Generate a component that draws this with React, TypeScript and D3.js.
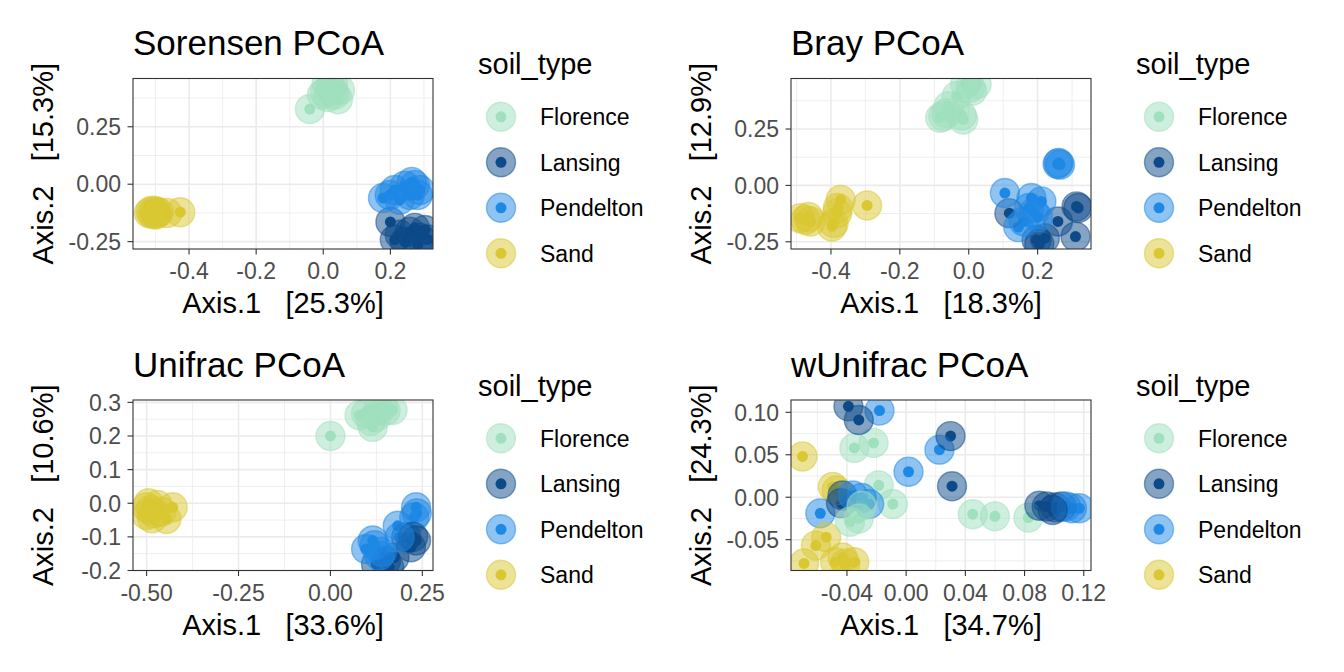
import * as React from 'react';
import * as d3 from 'd3';

type Pt = [number, number];

const soilTypes = ['Florence', 'Lansing', 'Pendelton', 'Sand'];
const soilColors = ['#9fe0be', '#0c4a8a', '#1e88e5', '#d9c832'];

// Sorensen PCoA
const sorFlorence: Pt[] = [[-0.04, 0.327], [0.005, 0.40], [0.02, 0.42], [0.035, 0.39], [0.014, 0.38], [0.05, 0.41], [0.029, 0.435], [-0.004, 0.39], [0.044, 0.37], [0.01, 0.44], [0.03, 0.405]];
const sorLansing: Pt[] = [[0.2, -0.164], [0.228, -0.22], [0.258, -0.207], [0.288, -0.233], [0.311, -0.24], [0.273, -0.19], [0.243, -0.25], [0.303, -0.199], [0.213, -0.242], [0.282, -0.263]];
const sorPendelton: Pt[] = [[0.178, -0.06], [0.213, -0.025], [0.243, -0.007], [0.273, -0.003], [0.288, -0.025], [0.258, -0.047], [0.228, -0.068], [0.198, -0.047], [0.264, 0.01], [0.282, -0.047]];
const sorSand: Pt[] = [[-0.426, -0.122], [-0.465, -0.125], [-0.50, -0.12], [-0.51, -0.13], [-0.505, -0.115], [-0.52, -0.125], [-0.495, -0.128], [-0.515, -0.118], [-0.49, -0.122], [-0.50, -0.132]];

// Bray PCoA
const brayFlorence: Pt[] = [[-0.074, 0.307], [-0.083, 0.30], [-0.065, 0.32], [-0.016, 0.292], [-0.02, 0.31], [0.004, 0.433], [-0.035, 0.396], [0.023, 0.448], [-0.059, 0.351], [-0.01, 0.45], [0.01, 0.42]];
const brayLansing: Pt[] = [[0.118, -0.123], [0.259, -0.16], [0.313, -0.093], [0.318, -0.1], [0.31, -0.227], [0.197, -0.242], [0.221, -0.234], [0.205, -0.26]];
const brayPendelton: Pt[] = [[0.261, 0.10], [0.258, 0.095], [0.265, 0.092], [0.105, -0.034], [0.182, -0.056], [0.211, -0.071], [0.144, -0.185], [0.201, -0.141], [0.16, -0.16], [0.19, -0.12], [0.175, -0.1]];
const braySand: Pt[] = [[-0.474, -0.153], [-0.459, -0.16], [-0.49, -0.145], [-0.392, -0.167], [-0.382, -0.123], [-0.372, -0.064], [-0.295, -0.089], [-0.397, -0.182], [-0.38, -0.1], [-0.465, -0.14]];

// Unifrac PCoA
const uniFlorence: Pt[] = [[0.0, 0.2], [0.097, 0.267], [0.115, 0.227], [0.142, 0.287], [0.169, 0.277], [0.079, 0.262], [0.124, 0.257], [0.11, 0.245], [0.13, 0.28], [0.15, 0.275]];
const uniLansing: Pt[] = [[0.206, -0.101], [0.219, -0.131], [0.151, -0.171], [0.124, -0.181], [0.233, -0.111], [0.174, -0.161], [0.16, -0.19], [0.225, -0.1]];
const uniPendelton: Pt[] = [[0.233, -0.012], [0.235, -0.03], [0.228, -0.042], [0.183, -0.067], [0.115, -0.111], [0.097, -0.136], [0.133, -0.156], [0.188, -0.101], [0.14, -0.145], [0.12, -0.125]];
const uniSand: Pt[] = [[-0.429, -0.012], [-0.446, -0.047], [-0.50, -0.012], [-0.49, -0.02], [-0.48, -0.03], [-0.47, -0.005], [-0.50, -0.035], [-0.485, -0.045], [-0.46, -0.025], [-0.495, 0.0]];

// wUnifrac PCoA
const wuniFlorence: Pt[] = [[-0.035, 0.058], [-0.022, 0.064], [-0.0185, 0.014], [-0.009, -0.008], [0.045, -0.020], [0.060, -0.0225], [0.0826, -0.024], [-0.032, -0.025], [-0.038, -0.029], [-0.030, -0.010]];
const wuniLansing: Pt[] = [[-0.039, 0.107], [-0.032, 0.091], [0.030, 0.072], [0.031, 0.013], [-0.043, 0.002], [-0.044, -0.007], [0.095, -0.011], [0.101, -0.012], [0.105, -0.011], [0.090, -0.010], [0.099, -0.015]];
const wuniPendelton: Pt[] = [[-0.018, 0.102], [0.0225, 0.056], [0.0016, 0.030], [-0.058, -0.019], [-0.025, -0.008], [-0.030, -0.001], [-0.036, 0.002], [0.117, -0.013], [0.112, -0.013], [0.108, -0.011]];
const wuniSand: Pt[] = [[-0.070, 0.048], [-0.0496, 0.0122], [-0.047, 0.008], [-0.054, -0.047], [-0.061, -0.057], [-0.069, -0.078], [-0.048, -0.0765], [-0.043, -0.071], [-0.035, -0.0765], [-0.041, -0.078]];

const titles = ['Sorensen PCoA', 'Bray PCoA', 'Unifrac PCoA', 'wUnifrac PCoA'];
const axis1Pct = ['25.3%', '18.3%', '33.6%', '34.7%'];
const axis2Pct = ['15.3%', '12.9%', '10.6%', '24.3%'];

const xTickLabels = [
    ['-0.4', '-0.2', '0.0', '0.2'],
    ['-0.4', '-0.2', '0.0', '0.2'],
    ['-0.50', '-0.25', '0.00', '0.25'],
    ['-0.04', '0.00', '0.04', '0.08', '0.12'],
];
const yTickLabels = [
    ['-0.25', '0.00', '0.25'],
    ['-0.25', '0.00', '0.25'],
    ['-0.2', '-0.1', '0.0', '0.1', '0.2', '0.3'],
    ['-0.05', '0.00', '0.05', '0.10'],
];

const xDomains: Pt[] = [[-0.567, 0.327], [-0.516, 0.355], [-0.537, 0.279], [-0.0778, 0.1249]];
const yDomains: Pt[] = [[-0.282, 0.46], [-0.282, 0.474], [-0.2, 0.307], [-0.0863, 0.1145]];

const panelGroups = [
    [sorFlorence, sorLansing, sorPendelton, sorSand],
    [brayFlorence, brayLansing, brayPendelton, braySand],
    [uniFlorence, uniLansing, uniPendelton, uniSand],
    [wuniFlorence, wuniLansing, wuniPendelton, wuniSand],
];

const W = 1344;
const H = 672;
const colX = [133, 791];
const rowY = [78.5, 400];
const pw = 300;
const ph = 170.5;
const font = '"Liberation Sans", Arial, Helvetica, sans-serif';
const bigR = 14.5;
const smallR = 5.5;

function minorOf(major: number[], domain: Pt) {
    const step = major[1] - major[0];
    const out: number[] = [];
    for (let i = -1; i < major.length; i++) {
        const v = major[0] + step * (i + 0.5);
        if (v >= domain[0] && v <= domain[1]) out.push(v);
    }
    return out;
}

const Panel: React.FunctionComponent<{ idx: number }> = ({ idx }) => {
    const left = colX[idx % 2];
    const top = rowY[Math.floor(idx / 2)];
    const x = d3.scaleLinear().domain(xDomains[idx]).range([left, left + pw]);
    const y = d3.scaleLinear().domain(yDomains[idx]).range([top + ph, top]);
    const xMaj = xTickLabels[idx].map(Number);
    const yMaj = yTickLabels[idx].map(Number);
    const xMin = minorOf(xMaj, xDomains[idx]);
    const yMin = minorOf(yMaj, yDomains[idx]);
    const groups = panelGroups[idx];

    // interleave samples so groups overlap the way the original draw order does
    const pts: { p: Pt; g: number }[] = [];
    const n = d3.max(groups, g => g.length) || 0;
    for (let i = 0; i < n; i++) {
        groups.forEach((g, gi) => { if (g[i]) pts.push({ p: g[i], g: gi }); });
    }
    const clipId = `clip-${idx}`;
    const legX = left + 345;

    return (
        <g>
            <defs>
                <clipPath id={clipId}>
                    <rect x={left} y={top} width={pw} height={ph} />
                </clipPath>
            </defs>
            <text x={left} y={top - 23.5} fontSize={35} fill="#000">{titles[idx]}</text>
            <rect x={left} y={top} width={pw} height={ph} fill="#fff" />
            <g stroke="#ebebeb">
                {xMin.map(v => <line key={'xm' + v} x1={x(v)} x2={x(v)} y1={top} y2={top + ph} strokeWidth={0.8} />)}
                {yMin.map(v => <line key={'ym' + v} y1={y(v)} y2={y(v)} x1={left} x2={left + pw} strokeWidth={0.8} />)}
                {xMaj.map(v => <line key={'xM' + v} x1={x(v)} x2={x(v)} y1={top} y2={top + ph} strokeWidth={1.6} />)}
                {yMaj.map(v => <line key={'yM' + v} y1={y(v)} y2={y(v)} x1={left} x2={left + pw} strokeWidth={1.6} />)}
            </g>
            <g clipPath={`url(#${clipId})`}>
                {pts.map((d, i) => (
                    <circle key={'s' + i} cx={x(d.p[0])} cy={y(d.p[1])} r={smallR} fill={soilColors[d.g]} />
                ))}
                {pts.map((d, i) => (
                    <circle key={'b' + i} cx={x(d.p[0])} cy={y(d.p[1])} r={bigR} fill={soilColors[d.g]} fillOpacity={0.5}
                        stroke={soilColors[d.g]} strokeOpacity={0.5} strokeWidth={1.4} />
                ))}
            </g>
            <rect x={left} y={top} width={pw} height={ph} fill="none" stroke="#333333" strokeWidth={1.1} />
            <g stroke="#333333" strokeWidth={1.1}>
                {xMaj.map(v => <line key={'xt' + v} x1={x(v)} x2={x(v)} y1={top + ph} y2={top + ph + 5.5} />)}
                {yMaj.map(v => <line key={'yt' + v} y1={y(v)} y2={y(v)} x1={left - 5.5} x2={left} />)}
            </g>
            <g fontSize={23} fill="#4d4d4d">
                {xTickLabels[idx].map((l, i) => (
                    <text key={'xl' + l} x={x(xMaj[i])} y={top + ph + 30} textAnchor="middle">{l}</text>
                ))}
                {yTickLabels[idx].map((l, i) => (
                    <text key={'yl' + l} x={left - 12} y={y(yMaj[i])} dy="0.36em" textAnchor="end">{l}</text>
                ))}
            </g>
            <text x={left + pw / 2} y={top + ph + 64} fontSize={29} textAnchor="middle" fill="#000" style={{ whiteSpace: 'pre' }}>
                {`Axis.1   [${axis1Pct[idx]}]`}
            </text>
            <text transform={`translate(${left - 80},${top + ph / 2}) rotate(-90)`} fontSize={29} textAnchor="middle" fill="#000" style={{ whiteSpace: 'pre' }}>
                {`Axis.2   [${axis2Pct[idx]}]`}
            </text>
            <text x={legX} y={top - 4.5} fontSize={29} fill="#000">soil_type</text>
            {soilTypes.map((s, i) => {
                const cy = top + 38.3 + i * 45.5;
                return (
                    <g key={s}>
                        <circle cx={legX + 23} cy={cy} r={smallR} fill={soilColors[i]} />
                        <circle cx={legX + 23} cy={cy} r={bigR} fill={soilColors[i]} fillOpacity={0.5}
                            stroke={soilColors[i]} strokeOpacity={0.5} strokeWidth={1.4} />
                        <text x={legX + 62} y={cy} dy="0.36em" fontSize={23} fill="#000">{s}</text>
                    </g>
                );
            })}
        </g>
    );
};

const App: React.FunctionComponent = () => {
    return (
        <svg width={W} height={H} style={{ position: 'absolute', left: 0, top: 0, background: '#fff' }} fontFamily={font}>
            <rect width={W} height={H} fill="#fff" />
            {[0, 1, 2, 3].map(i => <Panel key={i} idx={i} />)}
        </svg>
    );
};

export default App;
